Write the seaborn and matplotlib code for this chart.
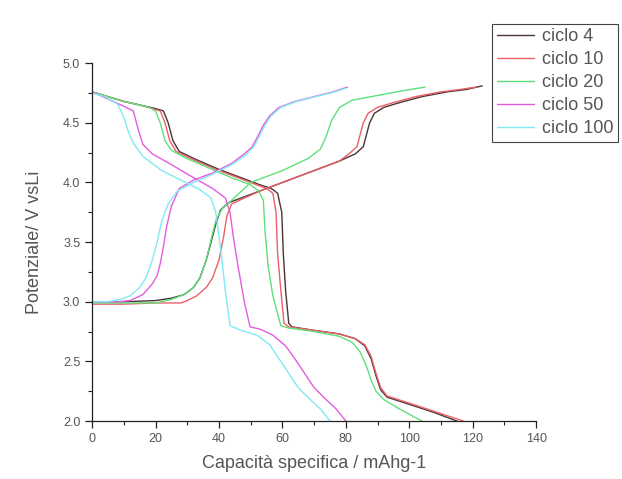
import numpy as np
import pandas as pd
import matplotlib
matplotlib.use("Agg")
import matplotlib.pyplot as plt
import seaborn as sns
from matplotlib.ticker import MultipleLocator

# capacita (mAh/g) e potenziale (V) per ogni ciclo
# carica
cap_car_4 = [0, 10, 20, 25, 29, 32, 34, 36, 37.5, 39, 40.5, 43, 48, 54, 62, 70, 78, 83, 85.5, 86.5, 87.5, 89, 92, 97, 104, 112, 118, 123]
v_car_4 = [3.0, 3.0, 3.01, 3.03, 3.06, 3.12, 3.2, 3.35, 3.5, 3.65, 3.77, 3.83, 3.88, 3.94, 4.02, 4.1, 4.18, 4.24, 4.3, 4.4, 4.5, 4.58, 4.63, 4.67, 4.72, 4.76, 4.78, 4.81]
cap_car_10 = [0, 10, 20, 28, 30, 33, 36, 38, 40, 41.5, 42.5, 44, 48, 54, 62, 70, 78, 81, 83.5, 84.5, 85.5, 87, 90, 95, 102, 110, 116, 121]
v_car_10 = [2.98, 2.98, 2.99, 2.99, 3.01, 3.05, 3.12, 3.2, 3.35, 3.55, 3.72, 3.82, 3.87, 3.94, 4.02, 4.1, 4.18, 4.24, 4.3, 4.4, 4.5, 4.58, 4.63, 4.67, 4.72, 4.76, 4.78, 4.8]
cap_car_20 = [0, 10, 20, 25, 29, 32, 34, 36, 37.5, 39, 41, 44, 50, 60, 68, 72, 74, 75.5, 78, 82, 90, 98, 105]
v_car_20 = [2.99, 2.99, 2.99, 3.02, 3.06, 3.12, 3.2, 3.35, 3.52, 3.68, 3.78, 3.85, 4.0, 4.1, 4.2, 4.28, 4.4, 4.52, 4.63, 4.69, 4.73, 4.77, 4.8]
cap_car_50 = [0, 8, 12, 16, 19, 20.5, 21.5, 22.5, 23.5, 25, 27.5, 32, 38, 44, 48, 50.5, 52.5, 54, 56, 59, 64, 70, 76, 80.5]
v_car_50 = [3.0, 3.0, 3.01, 3.06, 3.15, 3.22, 3.32, 3.46, 3.63, 3.8, 3.95, 4.02, 4.08, 4.16, 4.24, 4.3, 4.4, 4.48, 4.56, 4.63, 4.68, 4.72, 4.76, 4.8]
cap_car_100 = [0, 0, 5, 9, 12, 15, 17, 19, 20.5, 22, 24, 27, 32, 38, 44, 48.5, 51, 53, 54.5, 56.5, 59.5, 64.5, 70.5, 76.5, 80]
v_car_100 = [2.0, 3.0, 3.0, 3.02, 3.05, 3.12, 3.2, 3.35, 3.5, 3.68, 3.82, 3.93, 4.0, 4.07, 4.15, 4.23, 4.3, 4.4, 4.48, 4.56, 4.63, 4.68, 4.72, 4.76, 4.79]

# scarica
cap_sca_4 = [0, 5, 10, 15, 20, 22.5, 24, 25.5, 27.5, 33, 40, 47, 53, 56.5, 58.5, 59.8, 60.3, 61, 62, 63, 70, 78, 83, 86, 88, 89.5, 91, 93, 100, 108, 115]
v_sca_4 = [4.76, 4.72, 4.68, 4.65, 4.62, 4.6, 4.5, 4.35, 4.26, 4.19, 4.11, 4.04, 3.98, 3.95, 3.91, 3.75, 3.4, 3.1, 2.82, 2.79, 2.76, 2.73, 2.69, 2.63, 2.52, 2.38, 2.26, 2.2, 2.14, 2.07, 2.0]
cap_sca_10 = [0, 5, 10, 15, 19, 21.5, 23, 24.5, 26.5, 32, 39, 46, 52, 55, 57, 58, 58.5, 59.5, 60.5, 62, 70, 78, 83, 86, 88, 89.5, 91, 93, 100, 108, 117]
v_sca_10 = [4.76, 4.72, 4.68, 4.65, 4.62, 4.6, 4.5, 4.35, 4.26, 4.19, 4.11, 4.04, 3.98, 3.95, 3.91, 3.75, 3.4, 3.1, 2.82, 2.79, 2.76, 2.73, 2.69, 2.64, 2.54, 2.4, 2.28, 2.21, 2.15, 2.08, 2.0]
cap_sca_20 = [0, 5, 10, 15, 18, 20, 21.5, 23, 25, 30, 37, 44, 50, 52.5, 54, 54.5, 55.5, 57, 59.5, 62, 70, 78, 82, 84.5, 86.5, 88, 89.5, 92, 97, 104]
v_sca_20 = [4.76, 4.72, 4.68, 4.65, 4.63, 4.6, 4.5, 4.35, 4.27, 4.2, 4.12, 4.04, 3.98, 3.93, 3.85, 3.6, 3.3, 3.05, 2.8, 2.78, 2.75, 2.71, 2.66, 2.58, 2.46, 2.34, 2.25, 2.18, 2.1, 2.0]
cap_sca_50 = [0, 5, 10, 13, 14.5, 16, 19, 25, 32, 38, 42, 43.5, 44.5, 46, 48, 49.8, 53, 57, 61, 64, 67, 70, 73, 77, 80]
v_sca_50 = [4.76, 4.7, 4.64, 4.6, 4.45, 4.32, 4.24, 4.15, 4.04, 3.95, 3.87, 3.75, 3.55, 3.3, 3.0, 2.79, 2.77, 2.72, 2.63, 2.52, 2.4, 2.28, 2.2, 2.1, 2.0]
cap_sca_100 = [0, 4, 8, 10, 11.5, 13, 16, 22, 28, 34, 37.5, 39, 40.5, 42, 43.5, 47, 52, 56, 59, 62, 65, 68, 72, 75]
v_sca_100 = [4.75, 4.72, 4.66, 4.55, 4.42, 4.33, 4.22, 4.1, 4.02, 3.94, 3.87, 3.75, 3.45, 3.1, 2.8, 2.76, 2.72, 2.64, 2.52, 2.4, 2.28, 2.2, 2.1, 2.0]

cicli = ["ciclo 4", "ciclo 10", "ciclo 20", "ciclo 50", "ciclo 100"]
colori = ["#4a3434", "#ec5f6a", "#5fe07a", "#e35ce0", "#80eaf2"]

carica = [(cap_car_4, v_car_4), (cap_car_10, v_car_10), (cap_car_20, v_car_20),
          (cap_car_50, v_car_50), (cap_car_100, v_car_100)]
scarica = [(cap_sca_4, v_sca_4), (cap_sca_10, v_sca_10), (cap_sca_20, v_sca_20),
           (cap_sca_50, v_sca_50), (cap_sca_100, v_sca_100)]

righe = []
for nome, (cc, vc), (cs, vs) in zip(cicli, carica, scarica):
    for i, (c, v) in enumerate(zip(cc, vc)):
        righe.append((nome, "carica", i, c, v))
    for i, (c, v) in enumerate(zip(cs, vs)):
        righe.append((nome, "scarica", i, c, v))
df = pd.DataFrame(righe, columns=["ciclo", "ramo", "ordine", "cap", "volt"])

sns.set_style("ticks")
plt.rcParams["font.family"] = ["Liberation Sans", "DejaVu Sans"]

fig = plt.figure(figsize=(6.22, 4.79), dpi=100)
ax = fig.add_axes([0.148, 0.121, 0.714, 0.747])

sns.lineplot(data=df, x="cap", y="volt", hue="ciclo", units="ramo",
             estimator=None, sort=False, palette=colori, hue_order=cicli,
             linewidth=1.0, ax=ax)

ax.set_xlim(0, 140)
ax.set_ylim(2.0, 5.0)
ax.xaxis.set_major_locator(MultipleLocator(20))
ax.xaxis.set_minor_locator(MultipleLocator(10))
ax.yaxis.set_major_locator(MultipleLocator(0.5))
ax.yaxis.set_minor_locator(MultipleLocator(0.25))
ax.yaxis.set_major_formatter(matplotlib.ticker.FormatStrFormatter("%.1f"))
ax.tick_params(which="major", direction="out", length=5, width=0.9,
               labelsize=9, labelcolor="#555555", color="#222222")
ax.tick_params(which="minor", direction="out", length=3, width=0.8, color="#222222")
for s in ["top", "right"]:
    ax.spines[s].set_visible(False)
for s in ["left", "bottom"]:
    ax.spines[s].set_color("#222222")
    ax.spines[s].set_linewidth(0.9)

ax.set_xlabel("Capacità specifica / mAhg-1", fontsize=13, color="#555555", labelpad=7)
ax.set_ylabel("Potenziale/ V vsLi", fontsize=13, color="#555555", labelpad=14)

ax.legend_.remove()
handles, labels = ax.get_legend_handles_labels()
leg = fig.legend(handles, labels, loc="upper left", bbox_to_anchor=(0.791, 0.950),
                 fontsize=13, frameon=True, fancybox=False, framealpha=1,
                 edgecolor="#444444", borderpad=0.25, labelspacing=0.33,
                 handlelength=2.1, handletextpad=0.4, borderaxespad=0)
leg.get_frame().set_linewidth(0.8)
for t in leg.get_texts():
    t.set_color("#555555")

fig.savefig("out.png", dpi=100)
